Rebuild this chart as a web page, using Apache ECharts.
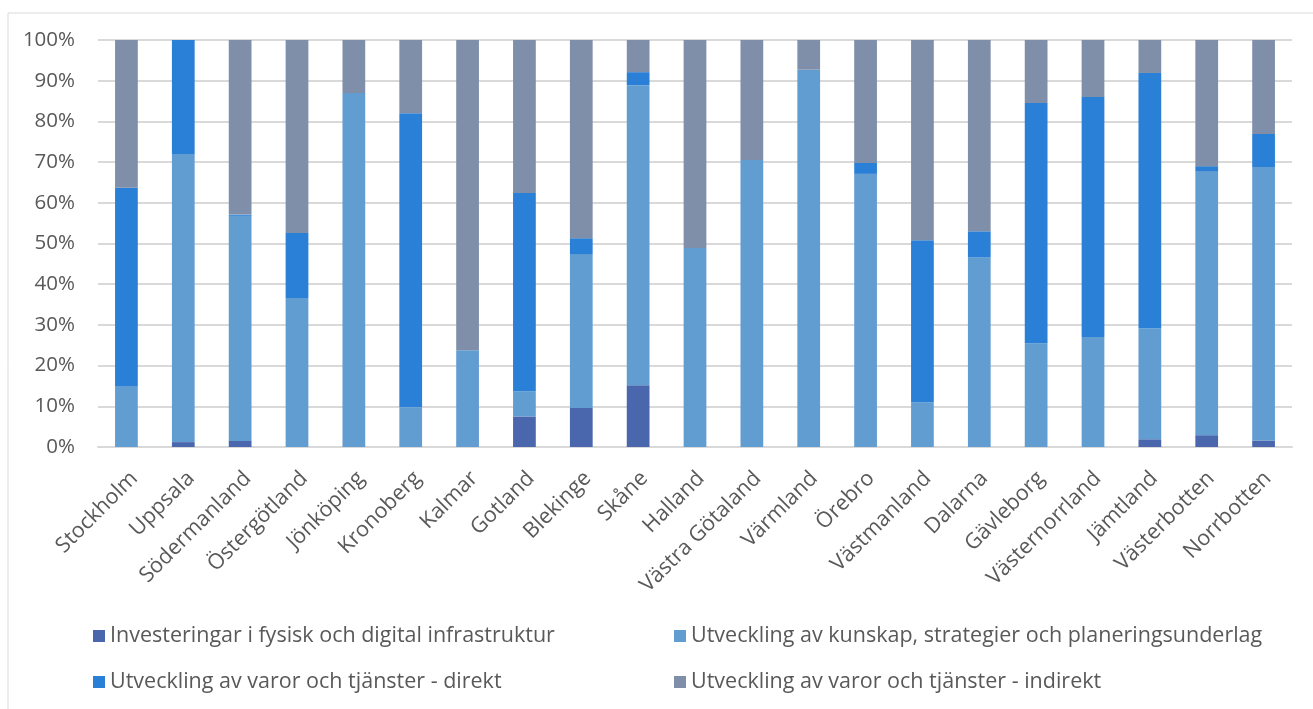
<!DOCTYPE html>
<html>
<head>
<meta charset="utf-8">
<script src="https://cdn.jsdelivr.net/npm/echarts@6/dist/echarts.min.js"></script>
<style>
  html, body { margin: 0; padding: 0; background: #fff; }
  #chart { width: 1313px; height: 709px; }
</style>
</head>
<body>
<div id="chart"></div>
<script>
// Regioner
const categories = ['Stockholm', 'Uppsala', 'Södermanland', 'Östergötland', 'Jönköping', 'Kronoberg', 'Kalmar',
  'Gotland', 'Blekinge', 'Skåne', 'Halland', 'Västra Götaland', 'Värmland', 'Örebro', 'Västmanland',
  'Dalarna', 'Gävleborg', 'Västernorrland', 'Jämtland', 'Västerbotten', 'Norrbotten']

// andel i procent per region
const infrastruktur = [0, 1.2, 1.5, 0, 0, 0, 0, 7.5, 9.6, 15.2, 0, 0, 0, 0, 0, 0, 0, 0, 1.9, 2.9, 1.6]
const kunskap = [15, 70.8, 55.3, 36.6, 87, 9.8, 23.8, 6.2, 37.8, 73.7, 48.9, 70.5, 92.7, 67.1, 11, 46.6, 25.5, 27, 27.3, 64.9, 67.2]
const direkt = [48.7, 28, 0.3, 16, 0, 72.2, 0, 48.7, 3.9, 3.2, 0, 0, 0, 2.7, 39.8, 6.4, 59, 59, 62.7, 1.2, 8.1]
const indirekt = [36.3, 0, 42.9, 47.4, 13, 18, 76.2, 37.6, 48.7, 7.9, 51.1, 29.5, 7.3, 30.2, 49.2, 47, 15.5, 14, 8.1, 31, 23.1]

const seriesNames = [
  'Investeringar i fysisk och digital infrastruktur',
  'Utveckling av kunskap, strategier och planeringsunderlag',
  'Utveckling av varor och tjänster - direkt',
  'Utveckling av varor och tjänster - indirekt'
]
const colors = ['#4a66ac', '#629dd1', '#2a7fd6', '#7f8fa9']
const yTicks = [0, 10, 20, 30, 40, 50, 60, 70, 80, 90, 100]

const font = '"Open Sans", sans-serif'
const textColor = '#595959'

const makeBar = (idx, data) => ({
  name: seriesNames[idx],
  type: 'bar',
  stack: 'total',
  barWidth: '40%',
  itemStyle: { color: colors[idx] },
  data
})

const legendBase = {
  orient: 'vertical',
  top: 620,
  itemGap: 24,
  itemWidth: 12,
  itemHeight: 12,
  icon: 'rect',
  textStyle: { fontFamily: font, fontSize: 21.5, color: textColor }
}

const myChart = echarts.init(document.getElementById('chart'))
const option = {
  animation: false,
  textStyle: { fontFamily: font },
  graphic: [
    {
      type: 'rect',
      shape: { x: 8, y: 13, width: 1330, height: 720 },
      style: { fill: 'none', stroke: '#d9d9d9', lineWidth: 1 },
      silent: true
    }
  ],
  legend: [
    { ...legendBase, left: 88, data: [seriesNames[0], seriesNames[2]] },
    { ...legendBase, left: 669, data: [seriesNames[1], seriesNames[3]] }
  ],
  grid: [
    { left: 98, right: 21, top: 40, bottom: 262 },
    // samma bredd, bara för de roterade etiketterna (Excel ställer dem lite till höger)
    { left: 106, width: 1190, top: 40, bottom: 262 }
  ],
  xAxis: [
    {
      type: 'category',
      data: categories,
      axisLine: { lineStyle: { color: '#d9d9d9', width: 2 } },
      axisTick: { show: false },
      axisLabel: { show: false }
    },
    {
      type: 'category',
      gridIndex: 1,
      data: categories,
      axisLine: { show: false },
      axisTick: { show: false },
      axisLabel: {
        interval: 0,
        rotate: 45,
        margin: 28,
        fontFamily: font,
        fontSize: 21.5,
        color: textColor
      }
    }
  ],
  yAxis: [
    {
      type: 'value',
      min: 0,
      max: 100,
      interval: 10,
      axisLine: { show: false },
      axisTick: { show: false },
      splitLine: { lineStyle: { color: '#d9d9d9', width: 2 } },
      axisLabel: {
        margin: 23,
        fontFamily: font,
        fontSize: 20.5,
        color: textColor,
        formatter: (v) => yTicks.includes(v) ? v + '%' : ''
      }
    },
    { type: 'value', gridIndex: 1, min: 0, max: 100, show: false }
  ],
  series: [
    makeBar(0, infrastruktur),
    makeBar(1, kunskap),
    makeBar(2, direkt),
    makeBar(3, indirekt)
  ]
}
option && myChart.setOption(option)
</script>
</body>
</html>
